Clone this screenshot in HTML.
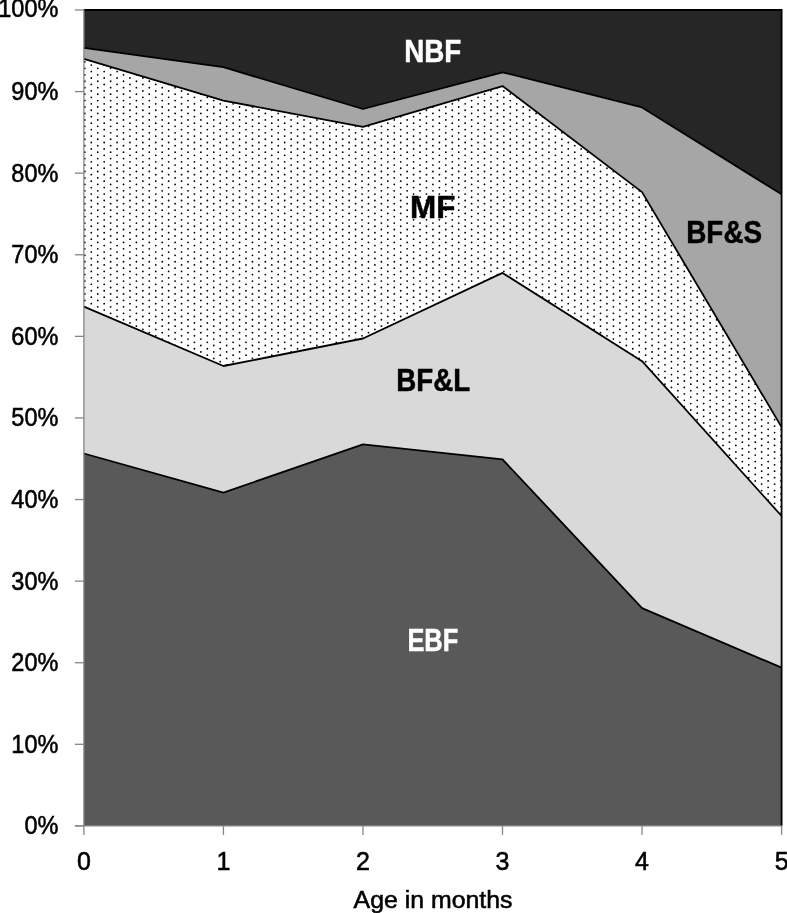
<!DOCTYPE html>
<html><head><meta charset="utf-8"><style>
html,body{margin:0;padding:0;background:#fff;}
svg{display:block;will-change:transform;}
.ax{font-family:"Liberation Sans",sans-serif;font-size:25px;fill:#000;stroke:#000;stroke-width:0.55px;}
.lb{font-family:"Liberation Sans",sans-serif;font-size:32px;font-weight:bold;}
</style></head><body>
<svg width="787" height="913" viewBox="0 0 787 913">
<polygon points="83.90,453.50 223.44,492.60 362.98,444.40 502.52,459.40 642.06,608.06 781.60,667.70 781.60,825.90 642.06,825.90 502.52,825.90 362.98,825.90 223.44,825.90 83.90,825.90" fill="#595959"/>
<polygon points="83.90,306.60 223.44,366.00 362.98,338.50 502.52,272.90 642.06,361.20 781.60,516.00 781.60,667.70 642.06,608.06 502.52,459.40 362.98,444.40 223.44,492.60 83.90,453.50" fill="#d9d9d9"/>
<clipPath id="mfclip"><polygon points="83.90,58.90 223.44,100.60 362.98,126.80 502.52,86.06 642.06,192.10 781.60,427.10 781.60,516.00 642.06,361.20 502.52,272.90 362.98,338.50 223.44,366.00 83.90,306.60"/></clipPath>
<polygon points="83.90,58.90 223.44,100.60 362.98,126.80 502.52,86.06 642.06,192.10 781.60,427.10 781.60,516.00 642.06,361.20 502.52,272.90 362.98,338.50 223.44,366.00 83.90,306.60" fill="#fff"/>
<path clip-path="url(#mfclip)" d="M84.85 61.90h0M84.85 68.35h0M84.85 74.79h0M84.85 81.24h0M84.85 87.69h0M84.85 94.13h0M84.85 100.58h0M84.85 107.02h0M84.85 113.47h0M84.85 119.91h0M84.85 126.36h0M84.85 132.81h0M84.85 139.25h0M84.85 145.70h0M84.85 152.14h0M84.85 158.59h0M84.85 165.04h0M84.85 171.48h0M84.85 177.93h0M84.85 184.38h0M84.85 190.82h0M84.85 197.27h0M84.85 203.71h0M84.85 210.16h0M84.85 216.60h0M84.85 223.05h0M84.85 229.50h0M84.85 235.94h0M84.85 242.39h0M84.85 248.83h0M84.85 255.28h0M84.85 261.73h0M84.85 268.17h0M84.85 274.62h0M84.85 281.06h0M84.85 287.51h0M84.85 293.96h0M84.85 300.40h0M84.85 306.85h0M91.30 65.12h0M91.30 71.57h0M91.30 78.02h0M91.30 84.46h0M91.30 90.91h0M91.30 97.35h0M91.30 103.80h0M91.30 110.25h0M91.30 116.69h0M91.30 123.14h0M91.30 129.58h0M91.30 136.03h0M91.30 142.48h0M91.30 148.92h0M91.30 155.37h0M91.30 161.81h0M91.30 168.26h0M91.30 174.71h0M91.30 181.15h0M91.30 187.60h0M91.30 194.04h0M91.30 200.49h0M91.30 206.94h0M91.30 213.38h0M91.30 219.83h0M91.30 226.27h0M91.30 232.72h0M91.30 239.17h0M91.30 245.61h0M91.30 252.06h0M91.30 258.50h0M91.30 264.95h0M91.30 271.40h0M91.30 277.84h0M91.30 284.29h0M91.30 290.73h0M91.30 297.18h0M91.30 303.63h0M91.30 310.07h0M97.74 61.90h0M97.74 68.35h0M97.74 74.79h0M97.74 81.24h0M97.74 87.69h0M97.74 94.13h0M97.74 100.58h0M97.74 107.02h0M97.74 113.47h0M97.74 119.91h0M97.74 126.36h0M97.74 132.81h0M97.74 139.25h0M97.74 145.70h0M97.74 152.14h0M97.74 158.59h0M97.74 165.04h0M97.74 171.48h0M97.74 177.93h0M97.74 184.38h0M97.74 190.82h0M97.74 197.27h0M97.74 203.71h0M97.74 210.16h0M97.74 216.60h0M97.74 223.05h0M97.74 229.50h0M97.74 235.94h0M97.74 242.39h0M97.74 248.83h0M97.74 255.28h0M97.74 261.73h0M97.74 268.17h0M97.74 274.62h0M97.74 281.06h0M97.74 287.51h0M97.74 293.96h0M97.74 300.40h0M97.74 306.85h0M97.74 313.29h0M104.19 65.12h0M104.19 71.57h0M104.19 78.02h0M104.19 84.46h0M104.19 90.91h0M104.19 97.35h0M104.19 103.80h0M104.19 110.25h0M104.19 116.69h0M104.19 123.14h0M104.19 129.58h0M104.19 136.03h0M104.19 142.48h0M104.19 148.92h0M104.19 155.37h0M104.19 161.81h0M104.19 168.26h0M104.19 174.71h0M104.19 181.15h0M104.19 187.60h0M104.19 194.04h0M104.19 200.49h0M104.19 206.94h0M104.19 213.38h0M104.19 219.83h0M104.19 226.27h0M104.19 232.72h0M104.19 239.17h0M104.19 245.61h0M104.19 252.06h0M104.19 258.50h0M104.19 264.95h0M104.19 271.40h0M104.19 277.84h0M104.19 284.29h0M104.19 290.73h0M104.19 297.18h0M104.19 303.63h0M104.19 310.07h0M104.19 316.52h0M110.64 68.35h0M110.64 74.79h0M110.64 81.24h0M110.64 87.69h0M110.64 94.13h0M110.64 100.58h0M110.64 107.02h0M110.64 113.47h0M110.64 119.91h0M110.64 126.36h0M110.64 132.81h0M110.64 139.25h0M110.64 145.70h0M110.64 152.14h0M110.64 158.59h0M110.64 165.04h0M110.64 171.48h0M110.64 177.93h0M110.64 184.38h0M110.64 190.82h0M110.64 197.27h0M110.64 203.71h0M110.64 210.16h0M110.64 216.60h0M110.64 223.05h0M110.64 229.50h0M110.64 235.94h0M110.64 242.39h0M110.64 248.83h0M110.64 255.28h0M110.64 261.73h0M110.64 268.17h0M110.64 274.62h0M110.64 281.06h0M110.64 287.51h0M110.64 293.96h0M110.64 300.40h0M110.64 306.85h0M110.64 313.29h0M110.64 319.74h0M117.08 71.57h0M117.08 78.02h0M117.08 84.46h0M117.08 90.91h0M117.08 97.35h0M117.08 103.80h0M117.08 110.25h0M117.08 116.69h0M117.08 123.14h0M117.08 129.58h0M117.08 136.03h0M117.08 142.48h0M117.08 148.92h0M117.08 155.37h0M117.08 161.81h0M117.08 168.26h0M117.08 174.71h0M117.08 181.15h0M117.08 187.60h0M117.08 194.04h0M117.08 200.49h0M117.08 206.94h0M117.08 213.38h0M117.08 219.83h0M117.08 226.27h0M117.08 232.72h0M117.08 239.17h0M117.08 245.61h0M117.08 252.06h0M117.08 258.50h0M117.08 264.95h0M117.08 271.40h0M117.08 277.84h0M117.08 284.29h0M117.08 290.73h0M117.08 297.18h0M117.08 303.63h0M117.08 310.07h0M117.08 316.52h0M123.53 74.79h0M123.53 81.24h0M123.53 87.69h0M123.53 94.13h0M123.53 100.58h0M123.53 107.02h0M123.53 113.47h0M123.53 119.91h0M123.53 126.36h0M123.53 132.81h0M123.53 139.25h0M123.53 145.70h0M123.53 152.14h0M123.53 158.59h0M123.53 165.04h0M123.53 171.48h0M123.53 177.93h0M123.53 184.38h0M123.53 190.82h0M123.53 197.27h0M123.53 203.71h0M123.53 210.16h0M123.53 216.60h0M123.53 223.05h0M123.53 229.50h0M123.53 235.94h0M123.53 242.39h0M123.53 248.83h0M123.53 255.28h0M123.53 261.73h0M123.53 268.17h0M123.53 274.62h0M123.53 281.06h0M123.53 287.51h0M123.53 293.96h0M123.53 300.40h0M123.53 306.85h0M123.53 313.29h0M123.53 319.74h0M129.97 71.57h0M129.97 78.02h0M129.97 84.46h0M129.97 90.91h0M129.97 97.35h0M129.97 103.80h0M129.97 110.25h0M129.97 116.69h0M129.97 123.14h0M129.97 129.58h0M129.97 136.03h0M129.97 142.48h0M129.97 148.92h0M129.97 155.37h0M129.97 161.81h0M129.97 168.26h0M129.97 174.71h0M129.97 181.15h0M129.97 187.60h0M129.97 194.04h0M129.97 200.49h0M129.97 206.94h0M129.97 213.38h0M129.97 219.83h0M129.97 226.27h0M129.97 232.72h0M129.97 239.17h0M129.97 245.61h0M129.97 252.06h0M129.97 258.50h0M129.97 264.95h0M129.97 271.40h0M129.97 277.84h0M129.97 284.29h0M129.97 290.73h0M129.97 297.18h0M129.97 303.63h0M129.97 310.07h0M129.97 316.52h0M129.97 322.96h0M136.42 74.79h0M136.42 81.24h0M136.42 87.69h0M136.42 94.13h0M136.42 100.58h0M136.42 107.02h0M136.42 113.47h0M136.42 119.91h0M136.42 126.36h0M136.42 132.81h0M136.42 139.25h0M136.42 145.70h0M136.42 152.14h0M136.42 158.59h0M136.42 165.04h0M136.42 171.48h0M136.42 177.93h0M136.42 184.38h0M136.42 190.82h0M136.42 197.27h0M136.42 203.71h0M136.42 210.16h0M136.42 216.60h0M136.42 223.05h0M136.42 229.50h0M136.42 235.94h0M136.42 242.39h0M136.42 248.83h0M136.42 255.28h0M136.42 261.73h0M136.42 268.17h0M136.42 274.62h0M136.42 281.06h0M136.42 287.51h0M136.42 293.96h0M136.42 300.40h0M136.42 306.85h0M136.42 313.29h0M136.42 319.74h0M136.42 326.19h0M142.87 78.02h0M142.87 84.46h0M142.87 90.91h0M142.87 97.35h0M142.87 103.80h0M142.87 110.25h0M142.87 116.69h0M142.87 123.14h0M142.87 129.58h0M142.87 136.03h0M142.87 142.48h0M142.87 148.92h0M142.87 155.37h0M142.87 161.81h0M142.87 168.26h0M142.87 174.71h0M142.87 181.15h0M142.87 187.60h0M142.87 194.04h0M142.87 200.49h0M142.87 206.94h0M142.87 213.38h0M142.87 219.83h0M142.87 226.27h0M142.87 232.72h0M142.87 239.17h0M142.87 245.61h0M142.87 252.06h0M142.87 258.50h0M142.87 264.95h0M142.87 271.40h0M142.87 277.84h0M142.87 284.29h0M142.87 290.73h0M142.87 297.18h0M142.87 303.63h0M142.87 310.07h0M142.87 316.52h0M142.87 322.96h0M142.87 329.41h0M149.31 81.24h0M149.31 87.69h0M149.31 94.13h0M149.31 100.58h0M149.31 107.02h0M149.31 113.47h0M149.31 119.91h0M149.31 126.36h0M149.31 132.81h0M149.31 139.25h0M149.31 145.70h0M149.31 152.14h0M149.31 158.59h0M149.31 165.04h0M149.31 171.48h0M149.31 177.93h0M149.31 184.38h0M149.31 190.82h0M149.31 197.27h0M149.31 203.71h0M149.31 210.16h0M149.31 216.60h0M149.31 223.05h0M149.31 229.50h0M149.31 235.94h0M149.31 242.39h0M149.31 248.83h0M149.31 255.28h0M149.31 261.73h0M149.31 268.17h0M149.31 274.62h0M149.31 281.06h0M149.31 287.51h0M149.31 293.96h0M149.31 300.40h0M149.31 306.85h0M149.31 313.29h0M149.31 319.74h0M149.31 326.19h0M149.31 332.63h0M155.76 84.46h0M155.76 90.91h0M155.76 97.35h0M155.76 103.80h0M155.76 110.25h0M155.76 116.69h0M155.76 123.14h0M155.76 129.58h0M155.76 136.03h0M155.76 142.48h0M155.76 148.92h0M155.76 155.37h0M155.76 161.81h0M155.76 168.26h0M155.76 174.71h0M155.76 181.15h0M155.76 187.60h0M155.76 194.04h0M155.76 200.49h0M155.76 206.94h0M155.76 213.38h0M155.76 219.83h0M155.76 226.27h0M155.76 232.72h0M155.76 239.17h0M155.76 245.61h0M155.76 252.06h0M155.76 258.50h0M155.76 264.95h0M155.76 271.40h0M155.76 277.84h0M155.76 284.29h0M155.76 290.73h0M155.76 297.18h0M155.76 303.63h0M155.76 310.07h0M155.76 316.52h0M155.76 322.96h0M155.76 329.41h0M155.76 335.86h0M162.20 81.24h0M162.20 87.69h0M162.20 94.13h0M162.20 100.58h0M162.20 107.02h0M162.20 113.47h0M162.20 119.91h0M162.20 126.36h0M162.20 132.81h0M162.20 139.25h0M162.20 145.70h0M162.20 152.14h0M162.20 158.59h0M162.20 165.04h0M162.20 171.48h0M162.20 177.93h0M162.20 184.38h0M162.20 190.82h0M162.20 197.27h0M162.20 203.71h0M162.20 210.16h0M162.20 216.60h0M162.20 223.05h0M162.20 229.50h0M162.20 235.94h0M162.20 242.39h0M162.20 248.83h0M162.20 255.28h0M162.20 261.73h0M162.20 268.17h0M162.20 274.62h0M162.20 281.06h0M162.20 287.51h0M162.20 293.96h0M162.20 300.40h0M162.20 306.85h0M162.20 313.29h0M162.20 319.74h0M162.20 326.19h0M162.20 332.63h0M162.20 339.08h0M168.65 84.46h0M168.65 90.91h0M168.65 97.35h0M168.65 103.80h0M168.65 110.25h0M168.65 116.69h0M168.65 123.14h0M168.65 129.58h0M168.65 136.03h0M168.65 142.48h0M168.65 148.92h0M168.65 155.37h0M168.65 161.81h0M168.65 168.26h0M168.65 174.71h0M168.65 181.15h0M168.65 187.60h0M168.65 194.04h0M168.65 200.49h0M168.65 206.94h0M168.65 213.38h0M168.65 219.83h0M168.65 226.27h0M168.65 232.72h0M168.65 239.17h0M168.65 245.61h0M168.65 252.06h0M168.65 258.50h0M168.65 264.95h0M168.65 271.40h0M168.65 277.84h0M168.65 284.29h0M168.65 290.73h0M168.65 297.18h0M168.65 303.63h0M168.65 310.07h0M168.65 316.52h0M168.65 322.96h0M168.65 329.41h0M168.65 335.86h0M168.65 342.30h0M175.10 87.69h0M175.10 94.13h0M175.10 100.58h0M175.10 107.02h0M175.10 113.47h0M175.10 119.91h0M175.10 126.36h0M175.10 132.81h0M175.10 139.25h0M175.10 145.70h0M175.10 152.14h0M175.10 158.59h0M175.10 165.04h0M175.10 171.48h0M175.10 177.93h0M175.10 184.38h0M175.10 190.82h0M175.10 197.27h0M175.10 203.71h0M175.10 210.16h0M175.10 216.60h0M175.10 223.05h0M175.10 229.50h0M175.10 235.94h0M175.10 242.39h0M175.10 248.83h0M175.10 255.28h0M175.10 261.73h0M175.10 268.17h0M175.10 274.62h0M175.10 281.06h0M175.10 287.51h0M175.10 293.96h0M175.10 300.40h0M175.10 306.85h0M175.10 313.29h0M175.10 319.74h0M175.10 326.19h0M175.10 332.63h0M175.10 339.08h0M175.10 345.52h0M181.54 90.91h0M181.54 97.35h0M181.54 103.80h0M181.54 110.25h0M181.54 116.69h0M181.54 123.14h0M181.54 129.58h0M181.54 136.03h0M181.54 142.48h0M181.54 148.92h0M181.54 155.37h0M181.54 161.81h0M181.54 168.26h0M181.54 174.71h0M181.54 181.15h0M181.54 187.60h0M181.54 194.04h0M181.54 200.49h0M181.54 206.94h0M181.54 213.38h0M181.54 219.83h0M181.54 226.27h0M181.54 232.72h0M181.54 239.17h0M181.54 245.61h0M181.54 252.06h0M181.54 258.50h0M181.54 264.95h0M181.54 271.40h0M181.54 277.84h0M181.54 284.29h0M181.54 290.73h0M181.54 297.18h0M181.54 303.63h0M181.54 310.07h0M181.54 316.52h0M181.54 322.96h0M181.54 329.41h0M181.54 335.86h0M181.54 342.30h0M181.54 348.75h0M187.99 94.13h0M187.99 100.58h0M187.99 107.02h0M187.99 113.47h0M187.99 119.91h0M187.99 126.36h0M187.99 132.81h0M187.99 139.25h0M187.99 145.70h0M187.99 152.14h0M187.99 158.59h0M187.99 165.04h0M187.99 171.48h0M187.99 177.93h0M187.99 184.38h0M187.99 190.82h0M187.99 197.27h0M187.99 203.71h0M187.99 210.16h0M187.99 216.60h0M187.99 223.05h0M187.99 229.50h0M187.99 235.94h0M187.99 242.39h0M187.99 248.83h0M187.99 255.28h0M187.99 261.73h0M187.99 268.17h0M187.99 274.62h0M187.99 281.06h0M187.99 287.51h0M187.99 293.96h0M187.99 300.40h0M187.99 306.85h0M187.99 313.29h0M187.99 319.74h0M187.99 326.19h0M187.99 332.63h0M187.99 339.08h0M187.99 345.52h0M187.99 351.97h0M194.43 90.91h0M194.43 97.35h0M194.43 103.80h0M194.43 110.25h0M194.43 116.69h0M194.43 123.14h0M194.43 129.58h0M194.43 136.03h0M194.43 142.48h0M194.43 148.92h0M194.43 155.37h0M194.43 161.81h0M194.43 168.26h0M194.43 174.71h0M194.43 181.15h0M194.43 187.60h0M194.43 194.04h0M194.43 200.49h0M194.43 206.94h0M194.43 213.38h0M194.43 219.83h0M194.43 226.27h0M194.43 232.72h0M194.43 239.17h0M194.43 245.61h0M194.43 252.06h0M194.43 258.50h0M194.43 264.95h0M194.43 271.40h0M194.43 277.84h0M194.43 284.29h0M194.43 290.73h0M194.43 297.18h0M194.43 303.63h0M194.43 310.07h0M194.43 316.52h0M194.43 322.96h0M194.43 329.41h0M194.43 335.86h0M194.43 342.30h0M194.43 348.75h0M194.43 355.19h0M200.88 94.13h0M200.88 100.58h0M200.88 107.02h0M200.88 113.47h0M200.88 119.91h0M200.88 126.36h0M200.88 132.81h0M200.88 139.25h0M200.88 145.70h0M200.88 152.14h0M200.88 158.59h0M200.88 165.04h0M200.88 171.48h0M200.88 177.93h0M200.88 184.38h0M200.88 190.82h0M200.88 197.27h0M200.88 203.71h0M200.88 210.16h0M200.88 216.60h0M200.88 223.05h0M200.88 229.50h0M200.88 235.94h0M200.88 242.39h0M200.88 248.83h0M200.88 255.28h0M200.88 261.73h0M200.88 268.17h0M200.88 274.62h0M200.88 281.06h0M200.88 287.51h0M200.88 293.96h0M200.88 300.40h0M200.88 306.85h0M200.88 313.29h0M200.88 319.74h0M200.88 326.19h0M200.88 332.63h0M200.88 339.08h0M200.88 345.52h0M200.88 351.97h0M207.33 97.35h0M207.33 103.80h0M207.33 110.25h0M207.33 116.69h0M207.33 123.14h0M207.33 129.58h0M207.33 136.03h0M207.33 142.48h0M207.33 148.92h0M207.33 155.37h0M207.33 161.81h0M207.33 168.26h0M207.33 174.71h0M207.33 181.15h0M207.33 187.60h0M207.33 194.04h0M207.33 200.49h0M207.33 206.94h0M207.33 213.38h0M207.33 219.83h0M207.33 226.27h0M207.33 232.72h0M207.33 239.17h0M207.33 245.61h0M207.33 252.06h0M207.33 258.50h0M207.33 264.95h0M207.33 271.40h0M207.33 277.84h0M207.33 284.29h0M207.33 290.73h0M207.33 297.18h0M207.33 303.63h0M207.33 310.07h0M207.33 316.52h0M207.33 322.96h0M207.33 329.41h0M207.33 335.86h0M207.33 342.30h0M207.33 348.75h0M207.33 355.19h0M213.77 100.58h0M213.77 107.02h0M213.77 113.47h0M213.77 119.91h0M213.77 126.36h0M213.77 132.81h0M213.77 139.25h0M213.77 145.70h0M213.77 152.14h0M213.77 158.59h0M213.77 165.04h0M213.77 171.48h0M213.77 177.93h0M213.77 184.38h0M213.77 190.82h0M213.77 197.27h0M213.77 203.71h0M213.77 210.16h0M213.77 216.60h0M213.77 223.05h0M213.77 229.50h0M213.77 235.94h0M213.77 242.39h0M213.77 248.83h0M213.77 255.28h0M213.77 261.73h0M213.77 268.17h0M213.77 274.62h0M213.77 281.06h0M213.77 287.51h0M213.77 293.96h0M213.77 300.40h0M213.77 306.85h0M213.77 313.29h0M213.77 319.74h0M213.77 326.19h0M213.77 332.63h0M213.77 339.08h0M213.77 345.52h0M213.77 351.97h0M213.77 358.42h0M220.22 103.80h0M220.22 110.25h0M220.22 116.69h0M220.22 123.14h0M220.22 129.58h0M220.22 136.03h0M220.22 142.48h0M220.22 148.92h0M220.22 155.37h0M220.22 161.81h0M220.22 168.26h0M220.22 174.71h0M220.22 181.15h0M220.22 187.60h0M220.22 194.04h0M220.22 200.49h0M220.22 206.94h0M220.22 213.38h0M220.22 219.83h0M220.22 226.27h0M220.22 232.72h0M220.22 239.17h0M220.22 245.61h0M220.22 252.06h0M220.22 258.50h0M220.22 264.95h0M220.22 271.40h0M220.22 277.84h0M220.22 284.29h0M220.22 290.73h0M220.22 297.18h0M220.22 303.63h0M220.22 310.07h0M220.22 316.52h0M220.22 322.96h0M220.22 329.41h0M220.22 335.86h0M220.22 342.30h0M220.22 348.75h0M220.22 355.19h0M220.22 361.64h0M226.66 100.58h0M226.66 107.02h0M226.66 113.47h0M226.66 119.91h0M226.66 126.36h0M226.66 132.81h0M226.66 139.25h0M226.66 145.70h0M226.66 152.14h0M226.66 158.59h0M226.66 165.04h0M226.66 171.48h0M226.66 177.93h0M226.66 184.38h0M226.66 190.82h0M226.66 197.27h0M226.66 203.71h0M226.66 210.16h0M226.66 216.60h0M226.66 223.05h0M226.66 229.50h0M226.66 235.94h0M226.66 242.39h0M226.66 248.83h0M226.66 255.28h0M226.66 261.73h0M226.66 268.17h0M226.66 274.62h0M226.66 281.06h0M226.66 287.51h0M226.66 293.96h0M226.66 300.40h0M226.66 306.85h0M226.66 313.29h0M226.66 319.74h0M226.66 326.19h0M226.66 332.63h0M226.66 339.08h0M226.66 345.52h0M226.66 351.97h0M226.66 358.42h0M226.66 364.86h0M233.11 103.80h0M233.11 110.25h0M233.11 116.69h0M233.11 123.14h0M233.11 129.58h0M233.11 136.03h0M233.11 142.48h0M233.11 148.92h0M233.11 155.37h0M233.11 161.81h0M233.11 168.26h0M233.11 174.71h0M233.11 181.15h0M233.11 187.60h0M233.11 194.04h0M233.11 200.49h0M233.11 206.94h0M233.11 213.38h0M233.11 219.83h0M233.11 226.27h0M233.11 232.72h0M233.11 239.17h0M233.11 245.61h0M233.11 252.06h0M233.11 258.50h0M233.11 264.95h0M233.11 271.40h0M233.11 277.84h0M233.11 284.29h0M233.11 290.73h0M233.11 297.18h0M233.11 303.63h0M233.11 310.07h0M233.11 316.52h0M233.11 322.96h0M233.11 329.41h0M233.11 335.86h0M233.11 342.30h0M233.11 348.75h0M233.11 355.19h0M233.11 361.64h0M239.56 107.02h0M239.56 113.47h0M239.56 119.91h0M239.56 126.36h0M239.56 132.81h0M239.56 139.25h0M239.56 145.70h0M239.56 152.14h0M239.56 158.59h0M239.56 165.04h0M239.56 171.48h0M239.56 177.93h0M239.56 184.38h0M239.56 190.82h0M239.56 197.27h0M239.56 203.71h0M239.56 210.16h0M239.56 216.60h0M239.56 223.05h0M239.56 229.50h0M239.56 235.94h0M239.56 242.39h0M239.56 248.83h0M239.56 255.28h0M239.56 261.73h0M239.56 268.17h0M239.56 274.62h0M239.56 281.06h0M239.56 287.51h0M239.56 293.96h0M239.56 300.40h0M239.56 306.85h0M239.56 313.29h0M239.56 319.74h0M239.56 326.19h0M239.56 332.63h0M239.56 339.08h0M239.56 345.52h0M239.56 351.97h0M239.56 358.42h0M246.00 103.80h0M246.00 110.25h0M246.00 116.69h0M246.00 123.14h0M246.00 129.58h0M246.00 136.03h0M246.00 142.48h0M246.00 148.92h0M246.00 155.37h0M246.00 161.81h0M246.00 168.26h0M246.00 174.71h0M246.00 181.15h0M246.00 187.60h0M246.00 194.04h0M246.00 200.49h0M246.00 206.94h0M246.00 213.38h0M246.00 219.83h0M246.00 226.27h0M246.00 232.72h0M246.00 239.17h0M246.00 245.61h0M246.00 252.06h0M246.00 258.50h0M246.00 264.95h0M246.00 271.40h0M246.00 277.84h0M246.00 284.29h0M246.00 290.73h0M246.00 297.18h0M246.00 303.63h0M246.00 310.07h0M246.00 316.52h0M246.00 322.96h0M246.00 329.41h0M246.00 335.86h0M246.00 342.30h0M246.00 348.75h0M246.00 355.19h0M246.00 361.64h0M252.45 107.02h0M252.45 113.47h0M252.45 119.91h0M252.45 126.36h0M252.45 132.81h0M252.45 139.25h0M252.45 145.70h0M252.45 152.14h0M252.45 158.59h0M252.45 165.04h0M252.45 171.48h0M252.45 177.93h0M252.45 184.38h0M252.45 190.82h0M252.45 197.27h0M252.45 203.71h0M252.45 210.16h0M252.45 216.60h0M252.45 223.05h0M252.45 229.50h0M252.45 235.94h0M252.45 242.39h0M252.45 248.83h0M252.45 255.28h0M252.45 261.73h0M252.45 268.17h0M252.45 274.62h0M252.45 281.06h0M252.45 287.51h0M252.45 293.96h0M252.45 300.40h0M252.45 306.85h0M252.45 313.29h0M252.45 319.74h0M252.45 326.19h0M252.45 332.63h0M252.45 339.08h0M252.45 345.52h0M252.45 351.97h0M252.45 358.42h0M258.89 110.25h0M258.89 116.69h0M258.89 123.14h0M258.89 129.58h0M258.89 136.03h0M258.89 142.48h0M258.89 148.92h0M258.89 155.37h0M258.89 161.81h0M258.89 168.26h0M258.89 174.71h0M258.89 181.15h0M258.89 187.60h0M258.89 194.04h0M258.89 200.49h0M258.89 206.94h0M258.89 213.38h0M258.89 219.83h0M258.89 226.27h0M258.89 232.72h0M258.89 239.17h0M258.89 245.61h0M258.89 252.06h0M258.89 258.50h0M258.89 264.95h0M258.89 271.40h0M258.89 277.84h0M258.89 284.29h0M258.89 290.73h0M258.89 297.18h0M258.89 303.63h0M258.89 310.07h0M258.89 316.52h0M258.89 322.96h0M258.89 329.41h0M258.89 335.86h0M258.89 342.30h0M258.89 348.75h0M258.89 355.19h0M265.34 107.02h0M265.34 113.47h0M265.34 119.91h0M265.34 126.36h0M265.34 132.81h0M265.34 139.25h0M265.34 145.70h0M265.34 152.14h0M265.34 158.59h0M265.34 165.04h0M265.34 171.48h0M265.34 177.93h0M265.34 184.38h0M265.34 190.82h0M265.34 197.27h0M265.34 203.71h0M265.34 210.16h0M265.34 216.60h0M265.34 223.05h0M265.34 229.50h0M265.34 235.94h0M265.34 242.39h0M265.34 248.83h0M265.34 255.28h0M265.34 261.73h0M265.34 268.17h0M265.34 274.62h0M265.34 281.06h0M265.34 287.51h0M265.34 293.96h0M265.34 300.40h0M265.34 306.85h0M265.34 313.29h0M265.34 319.74h0M265.34 326.19h0M265.34 332.63h0M265.34 339.08h0M265.34 345.52h0M265.34 351.97h0M265.34 358.42h0M271.79 110.25h0M271.79 116.69h0M271.79 123.14h0M271.79 129.58h0M271.79 136.03h0M271.79 142.48h0M271.79 148.92h0M271.79 155.37h0M271.79 161.81h0M271.79 168.26h0M271.79 174.71h0M271.79 181.15h0M271.79 187.60h0M271.79 194.04h0M271.79 200.49h0M271.79 206.94h0M271.79 213.38h0M271.79 219.83h0M271.79 226.27h0M271.79 232.72h0M271.79 239.17h0M271.79 245.61h0M271.79 252.06h0M271.79 258.50h0M271.79 264.95h0M271.79 271.40h0M271.79 277.84h0M271.79 284.29h0M271.79 290.73h0M271.79 297.18h0M271.79 303.63h0M271.79 310.07h0M271.79 316.52h0M271.79 322.96h0M271.79 329.41h0M271.79 335.86h0M271.79 342.30h0M271.79 348.75h0M271.79 355.19h0M278.23 113.47h0M278.23 119.91h0M278.23 126.36h0M278.23 132.81h0M278.23 139.25h0M278.23 145.70h0M278.23 152.14h0M278.23 158.59h0M278.23 165.04h0M278.23 171.48h0M278.23 177.93h0M278.23 184.38h0M278.23 190.82h0M278.23 197.27h0M278.23 203.71h0M278.23 210.16h0M278.23 216.60h0M278.23 223.05h0M278.23 229.50h0M278.23 235.94h0M278.23 242.39h0M278.23 248.83h0M278.23 255.28h0M278.23 261.73h0M278.23 268.17h0M278.23 274.62h0M278.23 281.06h0M278.23 287.51h0M278.23 293.96h0M278.23 300.40h0M278.23 306.85h0M278.23 313.29h0M278.23 319.74h0M278.23 326.19h0M278.23 332.63h0M278.23 339.08h0M278.23 345.52h0M278.23 351.97h0M284.68 110.25h0M284.68 116.69h0M284.68 123.14h0M284.68 129.58h0M284.68 136.03h0M284.68 142.48h0M284.68 148.92h0M284.68 155.37h0M284.68 161.81h0M284.68 168.26h0M284.68 174.71h0M284.68 181.15h0M284.68 187.60h0M284.68 194.04h0M284.68 200.49h0M284.68 206.94h0M284.68 213.38h0M284.68 219.83h0M284.68 226.27h0M284.68 232.72h0M284.68 239.17h0M284.68 245.61h0M284.68 252.06h0M284.68 258.50h0M284.68 264.95h0M284.68 271.40h0M284.68 277.84h0M284.68 284.29h0M284.68 290.73h0M284.68 297.18h0M284.68 303.63h0M284.68 310.07h0M284.68 316.52h0M284.68 322.96h0M284.68 329.41h0M284.68 335.86h0M284.68 342.30h0M284.68 348.75h0M284.68 355.19h0M291.12 113.47h0M291.12 119.91h0M291.12 126.36h0M291.12 132.81h0M291.12 139.25h0M291.12 145.70h0M291.12 152.14h0M291.12 158.59h0M291.12 165.04h0M291.12 171.48h0M291.12 177.93h0M291.12 184.38h0M291.12 190.82h0M291.12 197.27h0M291.12 203.71h0M291.12 210.16h0M291.12 216.60h0M291.12 223.05h0M291.12 229.50h0M291.12 235.94h0M291.12 242.39h0M291.12 248.83h0M291.12 255.28h0M291.12 261.73h0M291.12 268.17h0M291.12 274.62h0M291.12 281.06h0M291.12 287.51h0M291.12 293.96h0M291.12 300.40h0M291.12 306.85h0M291.12 313.29h0M291.12 319.74h0M291.12 326.19h0M291.12 332.63h0M291.12 339.08h0M291.12 345.52h0M291.12 351.97h0M297.57 116.69h0M297.57 123.14h0M297.57 129.58h0M297.57 136.03h0M297.57 142.48h0M297.57 148.92h0M297.57 155.37h0M297.57 161.81h0M297.57 168.26h0M297.57 174.71h0M297.57 181.15h0M297.57 187.60h0M297.57 194.04h0M297.57 200.49h0M297.57 206.94h0M297.57 213.38h0M297.57 219.83h0M297.57 226.27h0M297.57 232.72h0M297.57 239.17h0M297.57 245.61h0M297.57 252.06h0M297.57 258.50h0M297.57 264.95h0M297.57 271.40h0M297.57 277.84h0M297.57 284.29h0M297.57 290.73h0M297.57 297.18h0M297.57 303.63h0M297.57 310.07h0M297.57 316.52h0M297.57 322.96h0M297.57 329.41h0M297.57 335.86h0M297.57 342.30h0M297.57 348.75h0M304.02 119.91h0M304.02 126.36h0M304.02 132.81h0M304.02 139.25h0M304.02 145.70h0M304.02 152.14h0M304.02 158.59h0M304.02 165.04h0M304.02 171.48h0M304.02 177.93h0M304.02 184.38h0M304.02 190.82h0M304.02 197.27h0M304.02 203.71h0M304.02 210.16h0M304.02 216.60h0M304.02 223.05h0M304.02 229.50h0M304.02 235.94h0M304.02 242.39h0M304.02 248.83h0M304.02 255.28h0M304.02 261.73h0M304.02 268.17h0M304.02 274.62h0M304.02 281.06h0M304.02 287.51h0M304.02 293.96h0M304.02 300.40h0M304.02 306.85h0M304.02 313.29h0M304.02 319.74h0M304.02 326.19h0M304.02 332.63h0M304.02 339.08h0M304.02 345.52h0M304.02 351.97h0M310.46 116.69h0M310.46 123.14h0M310.46 129.58h0M310.46 136.03h0M310.46 142.48h0M310.46 148.92h0M310.46 155.37h0M310.46 161.81h0M310.46 168.26h0M310.46 174.71h0M310.46 181.15h0M310.46 187.60h0M310.46 194.04h0M310.46 200.49h0M310.46 206.94h0M310.46 213.38h0M310.46 219.83h0M310.46 226.27h0M310.46 232.72h0M310.46 239.17h0M310.46 245.61h0M310.46 252.06h0M310.46 258.50h0M310.46 264.95h0M310.46 271.40h0M310.46 277.84h0M310.46 284.29h0M310.46 290.73h0M310.46 297.18h0M310.46 303.63h0M310.46 310.07h0M310.46 316.52h0M310.46 322.96h0M310.46 329.41h0M310.46 335.86h0M310.46 342.30h0M310.46 348.75h0M316.91 119.91h0M316.91 126.36h0M316.91 132.81h0M316.91 139.25h0M316.91 145.70h0M316.91 152.14h0M316.91 158.59h0M316.91 165.04h0M316.91 171.48h0M316.91 177.93h0M316.91 184.38h0M316.91 190.82h0M316.91 197.27h0M316.91 203.71h0M316.91 210.16h0M316.91 216.60h0M316.91 223.05h0M316.91 229.50h0M316.91 235.94h0M316.91 242.39h0M316.91 248.83h0M316.91 255.28h0M316.91 261.73h0M316.91 268.17h0M316.91 274.62h0M316.91 281.06h0M316.91 287.51h0M316.91 293.96h0M316.91 300.40h0M316.91 306.85h0M316.91 313.29h0M316.91 319.74h0M316.91 326.19h0M316.91 332.63h0M316.91 339.08h0M316.91 345.52h0M323.35 123.14h0M323.35 129.58h0M323.35 136.03h0M323.35 142.48h0M323.35 148.92h0M323.35 155.37h0M323.35 161.81h0M323.35 168.26h0M323.35 174.71h0M323.35 181.15h0M323.35 187.60h0M323.35 194.04h0M323.35 200.49h0M323.35 206.94h0M323.35 213.38h0M323.35 219.83h0M323.35 226.27h0M323.35 232.72h0M323.35 239.17h0M323.35 245.61h0M323.35 252.06h0M323.35 258.50h0M323.35 264.95h0M323.35 271.40h0M323.35 277.84h0M323.35 284.29h0M323.35 290.73h0M323.35 297.18h0M323.35 303.63h0M323.35 310.07h0M323.35 316.52h0M323.35 322.96h0M323.35 329.41h0M323.35 335.86h0M323.35 342.30h0M329.80 119.91h0M329.80 126.36h0M329.80 132.81h0M329.80 139.25h0M329.80 145.70h0M329.80 152.14h0M329.80 158.59h0M329.80 165.04h0M329.80 171.48h0M329.80 177.93h0M329.80 184.38h0M329.80 190.82h0M329.80 197.27h0M329.80 203.71h0M329.80 210.16h0M329.80 216.60h0M329.80 223.05h0M329.80 229.50h0M329.80 235.94h0M329.80 242.39h0M329.80 248.83h0M329.80 255.28h0M329.80 261.73h0M329.80 268.17h0M329.80 274.62h0M329.80 281.06h0M329.80 287.51h0M329.80 293.96h0M329.80 300.40h0M329.80 306.85h0M329.80 313.29h0M329.80 319.74h0M329.80 326.19h0M329.80 332.63h0M329.80 339.08h0M329.80 345.52h0M336.25 123.14h0M336.25 129.58h0M336.25 136.03h0M336.25 142.48h0M336.25 148.92h0M336.25 155.37h0M336.25 161.81h0M336.25 168.26h0M336.25 174.71h0M336.25 181.15h0M336.25 187.60h0M336.25 194.04h0M336.25 200.49h0M336.25 206.94h0M336.25 213.38h0M336.25 219.83h0M336.25 226.27h0M336.25 232.72h0M336.25 239.17h0M336.25 245.61h0M336.25 252.06h0M336.25 258.50h0M336.25 264.95h0M336.25 271.40h0M336.25 277.84h0M336.25 284.29h0M336.25 290.73h0M336.25 297.18h0M336.25 303.63h0M336.25 310.07h0M336.25 316.52h0M336.25 322.96h0M336.25 329.41h0M336.25 335.86h0M336.25 342.30h0M342.69 126.36h0M342.69 132.81h0M342.69 139.25h0M342.69 145.70h0M342.69 152.14h0M342.69 158.59h0M342.69 165.04h0M342.69 171.48h0M342.69 177.93h0M342.69 184.38h0M342.69 190.82h0M342.69 197.27h0M342.69 203.71h0M342.69 210.16h0M342.69 216.60h0M342.69 223.05h0M342.69 229.50h0M342.69 235.94h0M342.69 242.39h0M342.69 248.83h0M342.69 255.28h0M342.69 261.73h0M342.69 268.17h0M342.69 274.62h0M342.69 281.06h0M342.69 287.51h0M342.69 293.96h0M342.69 300.40h0M342.69 306.85h0M342.69 313.29h0M342.69 319.74h0M342.69 326.19h0M342.69 332.63h0M342.69 339.08h0M349.14 123.14h0M349.14 129.58h0M349.14 136.03h0M349.14 142.48h0M349.14 148.92h0M349.14 155.37h0M349.14 161.81h0M349.14 168.26h0M349.14 174.71h0M349.14 181.15h0M349.14 187.60h0M349.14 194.04h0M349.14 200.49h0M349.14 206.94h0M349.14 213.38h0M349.14 219.83h0M349.14 226.27h0M349.14 232.72h0M349.14 239.17h0M349.14 245.61h0M349.14 252.06h0M349.14 258.50h0M349.14 264.95h0M349.14 271.40h0M349.14 277.84h0M349.14 284.29h0M349.14 290.73h0M349.14 297.18h0M349.14 303.63h0M349.14 310.07h0M349.14 316.52h0M349.14 322.96h0M349.14 329.41h0M349.14 335.86h0M349.14 342.30h0M355.58 126.36h0M355.58 132.81h0M355.58 139.25h0M355.58 145.70h0M355.58 152.14h0M355.58 158.59h0M355.58 165.04h0M355.58 171.48h0M355.58 177.93h0M355.58 184.38h0M355.58 190.82h0M355.58 197.27h0M355.58 203.71h0M355.58 210.16h0M355.58 216.60h0M355.58 223.05h0M355.58 229.50h0M355.58 235.94h0M355.58 242.39h0M355.58 248.83h0M355.58 255.28h0M355.58 261.73h0M355.58 268.17h0M355.58 274.62h0M355.58 281.06h0M355.58 287.51h0M355.58 293.96h0M355.58 300.40h0M355.58 306.85h0M355.58 313.29h0M355.58 319.74h0M355.58 326.19h0M355.58 332.63h0M355.58 339.08h0M362.03 129.58h0M362.03 136.03h0M362.03 142.48h0M362.03 148.92h0M362.03 155.37h0M362.03 161.81h0M362.03 168.26h0M362.03 174.71h0M362.03 181.15h0M362.03 187.60h0M362.03 194.04h0M362.03 200.49h0M362.03 206.94h0M362.03 213.38h0M362.03 219.83h0M362.03 226.27h0M362.03 232.72h0M362.03 239.17h0M362.03 245.61h0M362.03 252.06h0M362.03 258.50h0M362.03 264.95h0M362.03 271.40h0M362.03 277.84h0M362.03 284.29h0M362.03 290.73h0M362.03 297.18h0M362.03 303.63h0M362.03 310.07h0M362.03 316.52h0M362.03 322.96h0M362.03 329.41h0M362.03 335.86h0M368.48 126.36h0M368.48 132.81h0M368.48 139.25h0M368.48 145.70h0M368.48 152.14h0M368.48 158.59h0M368.48 165.04h0M368.48 171.48h0M368.48 177.93h0M368.48 184.38h0M368.48 190.82h0M368.48 197.27h0M368.48 203.71h0M368.48 210.16h0M368.48 216.60h0M368.48 223.05h0M368.48 229.50h0M368.48 235.94h0M368.48 242.39h0M368.48 248.83h0M368.48 255.28h0M368.48 261.73h0M368.48 268.17h0M368.48 274.62h0M368.48 281.06h0M368.48 287.51h0M368.48 293.96h0M368.48 300.40h0M368.48 306.85h0M368.48 313.29h0M368.48 319.74h0M368.48 326.19h0M368.48 332.63h0M374.92 123.14h0M374.92 129.58h0M374.92 136.03h0M374.92 142.48h0M374.92 148.92h0M374.92 155.37h0M374.92 161.81h0M374.92 168.26h0M374.92 174.71h0M374.92 181.15h0M374.92 187.60h0M374.92 194.04h0M374.92 200.49h0M374.92 206.94h0M374.92 213.38h0M374.92 219.83h0M374.92 226.27h0M374.92 232.72h0M374.92 239.17h0M374.92 245.61h0M374.92 252.06h0M374.92 258.50h0M374.92 264.95h0M374.92 271.40h0M374.92 277.84h0M374.92 284.29h0M374.92 290.73h0M374.92 297.18h0M374.92 303.63h0M374.92 310.07h0M374.92 316.52h0M374.92 322.96h0M374.92 329.41h0M381.37 119.91h0M381.37 126.36h0M381.37 132.81h0M381.37 139.25h0M381.37 145.70h0M381.37 152.14h0M381.37 158.59h0M381.37 165.04h0M381.37 171.48h0M381.37 177.93h0M381.37 184.38h0M381.37 190.82h0M381.37 197.27h0M381.37 203.71h0M381.37 210.16h0M381.37 216.60h0M381.37 223.05h0M381.37 229.50h0M381.37 235.94h0M381.37 242.39h0M381.37 248.83h0M381.37 255.28h0M381.37 261.73h0M381.37 268.17h0M381.37 274.62h0M381.37 281.06h0M381.37 287.51h0M381.37 293.96h0M381.37 300.40h0M381.37 306.85h0M381.37 313.29h0M381.37 319.74h0M381.37 326.19h0M387.81 123.14h0M387.81 129.58h0M387.81 136.03h0M387.81 142.48h0M387.81 148.92h0M387.81 155.37h0M387.81 161.81h0M387.81 168.26h0M387.81 174.71h0M387.81 181.15h0M387.81 187.60h0M387.81 194.04h0M387.81 200.49h0M387.81 206.94h0M387.81 213.38h0M387.81 219.83h0M387.81 226.27h0M387.81 232.72h0M387.81 239.17h0M387.81 245.61h0M387.81 252.06h0M387.81 258.50h0M387.81 264.95h0M387.81 271.40h0M387.81 277.84h0M387.81 284.29h0M387.81 290.73h0M387.81 297.18h0M387.81 303.63h0M387.81 310.07h0M387.81 316.52h0M387.81 322.96h0M394.26 119.91h0M394.26 126.36h0M394.26 132.81h0M394.26 139.25h0M394.26 145.70h0M394.26 152.14h0M394.26 158.59h0M394.26 165.04h0M394.26 171.48h0M394.26 177.93h0M394.26 184.38h0M394.26 190.82h0M394.26 197.27h0M394.26 203.71h0M394.26 210.16h0M394.26 216.60h0M394.26 223.05h0M394.26 229.50h0M394.26 235.94h0M394.26 242.39h0M394.26 248.83h0M394.26 255.28h0M394.26 261.73h0M394.26 268.17h0M394.26 274.62h0M394.26 281.06h0M394.26 287.51h0M394.26 293.96h0M394.26 300.40h0M394.26 306.85h0M394.26 313.29h0M394.26 319.74h0M400.71 116.69h0M400.71 123.14h0M400.71 129.58h0M400.71 136.03h0M400.71 142.48h0M400.71 148.92h0M400.71 155.37h0M400.71 161.81h0M400.71 168.26h0M400.71 174.71h0M400.71 181.15h0M400.71 187.60h0M400.71 194.04h0M400.71 200.49h0M400.71 206.94h0M400.71 213.38h0M400.71 219.83h0M400.71 226.27h0M400.71 232.72h0M400.71 239.17h0M400.71 245.61h0M400.71 252.06h0M400.71 258.50h0M400.71 264.95h0M400.71 271.40h0M400.71 277.84h0M400.71 284.29h0M400.71 290.73h0M400.71 297.18h0M400.71 303.63h0M400.71 310.07h0M400.71 316.52h0M407.15 113.47h0M407.15 119.91h0M407.15 126.36h0M407.15 132.81h0M407.15 139.25h0M407.15 145.70h0M407.15 152.14h0M407.15 158.59h0M407.15 165.04h0M407.15 171.48h0M407.15 177.93h0M407.15 184.38h0M407.15 190.82h0M407.15 197.27h0M407.15 203.71h0M407.15 210.16h0M407.15 216.60h0M407.15 223.05h0M407.15 229.50h0M407.15 235.94h0M407.15 242.39h0M407.15 248.83h0M407.15 255.28h0M407.15 261.73h0M407.15 268.17h0M407.15 274.62h0M407.15 281.06h0M407.15 287.51h0M407.15 293.96h0M407.15 300.40h0M407.15 306.85h0M407.15 313.29h0M413.60 110.25h0M413.60 116.69h0M413.60 123.14h0M413.60 129.58h0M413.60 136.03h0M413.60 142.48h0M413.60 148.92h0M413.60 155.37h0M413.60 161.81h0M413.60 168.26h0M413.60 174.71h0M413.60 181.15h0M413.60 187.60h0M413.60 194.04h0M413.60 200.49h0M413.60 206.94h0M413.60 213.38h0M413.60 219.83h0M413.60 226.27h0M413.60 232.72h0M413.60 239.17h0M413.60 245.61h0M413.60 252.06h0M413.60 258.50h0M413.60 264.95h0M413.60 271.40h0M413.60 277.84h0M413.60 284.29h0M413.60 290.73h0M413.60 297.18h0M413.60 303.63h0M413.60 310.07h0M413.60 316.52h0M420.04 113.47h0M420.04 119.91h0M420.04 126.36h0M420.04 132.81h0M420.04 139.25h0M420.04 145.70h0M420.04 152.14h0M420.04 158.59h0M420.04 165.04h0M420.04 171.48h0M420.04 177.93h0M420.04 184.38h0M420.04 190.82h0M420.04 197.27h0M420.04 203.71h0M420.04 210.16h0M420.04 216.60h0M420.04 223.05h0M420.04 229.50h0M420.04 235.94h0M420.04 242.39h0M420.04 248.83h0M420.04 255.28h0M420.04 261.73h0M420.04 268.17h0M420.04 274.62h0M420.04 281.06h0M420.04 287.51h0M420.04 293.96h0M420.04 300.40h0M420.04 306.85h0M420.04 313.29h0M426.49 110.25h0M426.49 116.69h0M426.49 123.14h0M426.49 129.58h0M426.49 136.03h0M426.49 142.48h0M426.49 148.92h0M426.49 155.37h0M426.49 161.81h0M426.49 168.26h0M426.49 174.71h0M426.49 181.15h0M426.49 187.60h0M426.49 194.04h0M426.49 200.49h0M426.49 206.94h0M426.49 213.38h0M426.49 219.83h0M426.49 226.27h0M426.49 232.72h0M426.49 239.17h0M426.49 245.61h0M426.49 252.06h0M426.49 258.50h0M426.49 264.95h0M426.49 271.40h0M426.49 277.84h0M426.49 284.29h0M426.49 290.73h0M426.49 297.18h0M426.49 303.63h0M426.49 310.07h0M432.94 107.02h0M432.94 113.47h0M432.94 119.91h0M432.94 126.36h0M432.94 132.81h0M432.94 139.25h0M432.94 145.70h0M432.94 152.14h0M432.94 158.59h0M432.94 165.04h0M432.94 171.48h0M432.94 177.93h0M432.94 184.38h0M432.94 190.82h0M432.94 197.27h0M432.94 203.71h0M432.94 210.16h0M432.94 216.60h0M432.94 223.05h0M432.94 229.50h0M432.94 235.94h0M432.94 242.39h0M432.94 248.83h0M432.94 255.28h0M432.94 261.73h0M432.94 268.17h0M432.94 274.62h0M432.94 281.06h0M432.94 287.51h0M432.94 293.96h0M432.94 300.40h0M432.94 306.85h0M439.38 103.80h0M439.38 110.25h0M439.38 116.69h0M439.38 123.14h0M439.38 129.58h0M439.38 136.03h0M439.38 142.48h0M439.38 148.92h0M439.38 155.37h0M439.38 161.81h0M439.38 168.26h0M439.38 174.71h0M439.38 181.15h0M439.38 187.60h0M439.38 194.04h0M439.38 200.49h0M439.38 206.94h0M439.38 213.38h0M439.38 219.83h0M439.38 226.27h0M439.38 232.72h0M439.38 239.17h0M439.38 245.61h0M439.38 252.06h0M439.38 258.50h0M439.38 264.95h0M439.38 271.40h0M439.38 277.84h0M439.38 284.29h0M439.38 290.73h0M439.38 297.18h0M439.38 303.63h0M445.83 107.02h0M445.83 113.47h0M445.83 119.91h0M445.83 126.36h0M445.83 132.81h0M445.83 139.25h0M445.83 145.70h0M445.83 152.14h0M445.83 158.59h0M445.83 165.04h0M445.83 171.48h0M445.83 177.93h0M445.83 184.38h0M445.83 190.82h0M445.83 197.27h0M445.83 203.71h0M445.83 210.16h0M445.83 216.60h0M445.83 223.05h0M445.83 229.50h0M445.83 235.94h0M445.83 242.39h0M445.83 248.83h0M445.83 255.28h0M445.83 261.73h0M445.83 268.17h0M445.83 274.62h0M445.83 281.06h0M445.83 287.51h0M445.83 293.96h0M445.83 300.40h0M452.27 103.80h0M452.27 110.25h0M452.27 116.69h0M452.27 123.14h0M452.27 129.58h0M452.27 136.03h0M452.27 142.48h0M452.27 148.92h0M452.27 155.37h0M452.27 161.81h0M452.27 168.26h0M452.27 174.71h0M452.27 181.15h0M452.27 187.60h0M452.27 194.04h0M452.27 200.49h0M452.27 206.94h0M452.27 213.38h0M452.27 219.83h0M452.27 226.27h0M452.27 232.72h0M452.27 239.17h0M452.27 245.61h0M452.27 252.06h0M452.27 258.50h0M452.27 264.95h0M452.27 271.40h0M452.27 277.84h0M452.27 284.29h0M452.27 290.73h0M452.27 297.18h0M458.72 100.58h0M458.72 107.02h0M458.72 113.47h0M458.72 119.91h0M458.72 126.36h0M458.72 132.81h0M458.72 139.25h0M458.72 145.70h0M458.72 152.14h0M458.72 158.59h0M458.72 165.04h0M458.72 171.48h0M458.72 177.93h0M458.72 184.38h0M458.72 190.82h0M458.72 197.27h0M458.72 203.71h0M458.72 210.16h0M458.72 216.60h0M458.72 223.05h0M458.72 229.50h0M458.72 235.94h0M458.72 242.39h0M458.72 248.83h0M458.72 255.28h0M458.72 261.73h0M458.72 268.17h0M458.72 274.62h0M458.72 281.06h0M458.72 287.51h0M458.72 293.96h0M465.17 97.35h0M465.17 103.80h0M465.17 110.25h0M465.17 116.69h0M465.17 123.14h0M465.17 129.58h0M465.17 136.03h0M465.17 142.48h0M465.17 148.92h0M465.17 155.37h0M465.17 161.81h0M465.17 168.26h0M465.17 174.71h0M465.17 181.15h0M465.17 187.60h0M465.17 194.04h0M465.17 200.49h0M465.17 206.94h0M465.17 213.38h0M465.17 219.83h0M465.17 226.27h0M465.17 232.72h0M465.17 239.17h0M465.17 245.61h0M465.17 252.06h0M465.17 258.50h0M465.17 264.95h0M465.17 271.40h0M465.17 277.84h0M465.17 284.29h0M465.17 290.73h0M471.61 94.13h0M471.61 100.58h0M471.61 107.02h0M471.61 113.47h0M471.61 119.91h0M471.61 126.36h0M471.61 132.81h0M471.61 139.25h0M471.61 145.70h0M471.61 152.14h0M471.61 158.59h0M471.61 165.04h0M471.61 171.48h0M471.61 177.93h0M471.61 184.38h0M471.61 190.82h0M471.61 197.27h0M471.61 203.71h0M471.61 210.16h0M471.61 216.60h0M471.61 223.05h0M471.61 229.50h0M471.61 235.94h0M471.61 242.39h0M471.61 248.83h0M471.61 255.28h0M471.61 261.73h0M471.61 268.17h0M471.61 274.62h0M471.61 281.06h0M471.61 287.51h0M478.06 97.35h0M478.06 103.80h0M478.06 110.25h0M478.06 116.69h0M478.06 123.14h0M478.06 129.58h0M478.06 136.03h0M478.06 142.48h0M478.06 148.92h0M478.06 155.37h0M478.06 161.81h0M478.06 168.26h0M478.06 174.71h0M478.06 181.15h0M478.06 187.60h0M478.06 194.04h0M478.06 200.49h0M478.06 206.94h0M478.06 213.38h0M478.06 219.83h0M478.06 226.27h0M478.06 232.72h0M478.06 239.17h0M478.06 245.61h0M478.06 252.06h0M478.06 258.50h0M478.06 264.95h0M478.06 271.40h0M478.06 277.84h0M478.06 284.29h0M484.50 94.13h0M484.50 100.58h0M484.50 107.02h0M484.50 113.47h0M484.50 119.91h0M484.50 126.36h0M484.50 132.81h0M484.50 139.25h0M484.50 145.70h0M484.50 152.14h0M484.50 158.59h0M484.50 165.04h0M484.50 171.48h0M484.50 177.93h0M484.50 184.38h0M484.50 190.82h0M484.50 197.27h0M484.50 203.71h0M484.50 210.16h0M484.50 216.60h0M484.50 223.05h0M484.50 229.50h0M484.50 235.94h0M484.50 242.39h0M484.50 248.83h0M484.50 255.28h0M484.50 261.73h0M484.50 268.17h0M484.50 274.62h0M484.50 281.06h0M490.95 90.91h0M490.95 97.35h0M490.95 103.80h0M490.95 110.25h0M490.95 116.69h0M490.95 123.14h0M490.95 129.58h0M490.95 136.03h0M490.95 142.48h0M490.95 148.92h0M490.95 155.37h0M490.95 161.81h0M490.95 168.26h0M490.95 174.71h0M490.95 181.15h0M490.95 187.60h0M490.95 194.04h0M490.95 200.49h0M490.95 206.94h0M490.95 213.38h0M490.95 219.83h0M490.95 226.27h0M490.95 232.72h0M490.95 239.17h0M490.95 245.61h0M490.95 252.06h0M490.95 258.50h0M490.95 264.95h0M490.95 271.40h0M490.95 277.84h0M497.40 87.69h0M497.40 94.13h0M497.40 100.58h0M497.40 107.02h0M497.40 113.47h0M497.40 119.91h0M497.40 126.36h0M497.40 132.81h0M497.40 139.25h0M497.40 145.70h0M497.40 152.14h0M497.40 158.59h0M497.40 165.04h0M497.40 171.48h0M497.40 177.93h0M497.40 184.38h0M497.40 190.82h0M497.40 197.27h0M497.40 203.71h0M497.40 210.16h0M497.40 216.60h0M497.40 223.05h0M497.40 229.50h0M497.40 235.94h0M497.40 242.39h0M497.40 248.83h0M497.40 255.28h0M497.40 261.73h0M497.40 268.17h0M497.40 274.62h0M503.84 90.91h0M503.84 97.35h0M503.84 103.80h0M503.84 110.25h0M503.84 116.69h0M503.84 123.14h0M503.84 129.58h0M503.84 136.03h0M503.84 142.48h0M503.84 148.92h0M503.84 155.37h0M503.84 161.81h0M503.84 168.26h0M503.84 174.71h0M503.84 181.15h0M503.84 187.60h0M503.84 194.04h0M503.84 200.49h0M503.84 206.94h0M503.84 213.38h0M503.84 219.83h0M503.84 226.27h0M503.84 232.72h0M503.84 239.17h0M503.84 245.61h0M503.84 252.06h0M503.84 258.50h0M503.84 264.95h0M503.84 271.40h0M510.29 94.13h0M510.29 100.58h0M510.29 107.02h0M510.29 113.47h0M510.29 119.91h0M510.29 126.36h0M510.29 132.81h0M510.29 139.25h0M510.29 145.70h0M510.29 152.14h0M510.29 158.59h0M510.29 165.04h0M510.29 171.48h0M510.29 177.93h0M510.29 184.38h0M510.29 190.82h0M510.29 197.27h0M510.29 203.71h0M510.29 210.16h0M510.29 216.60h0M510.29 223.05h0M510.29 229.50h0M510.29 235.94h0M510.29 242.39h0M510.29 248.83h0M510.29 255.28h0M510.29 261.73h0M510.29 268.17h0M510.29 274.62h0M516.73 97.35h0M516.73 103.80h0M516.73 110.25h0M516.73 116.69h0M516.73 123.14h0M516.73 129.58h0M516.73 136.03h0M516.73 142.48h0M516.73 148.92h0M516.73 155.37h0M516.73 161.81h0M516.73 168.26h0M516.73 174.71h0M516.73 181.15h0M516.73 187.60h0M516.73 194.04h0M516.73 200.49h0M516.73 206.94h0M516.73 213.38h0M516.73 219.83h0M516.73 226.27h0M516.73 232.72h0M516.73 239.17h0M516.73 245.61h0M516.73 252.06h0M516.73 258.50h0M516.73 264.95h0M516.73 271.40h0M516.73 277.84h0M523.18 100.58h0M523.18 107.02h0M523.18 113.47h0M523.18 119.91h0M523.18 126.36h0M523.18 132.81h0M523.18 139.25h0M523.18 145.70h0M523.18 152.14h0M523.18 158.59h0M523.18 165.04h0M523.18 171.48h0M523.18 177.93h0M523.18 184.38h0M523.18 190.82h0M523.18 197.27h0M523.18 203.71h0M523.18 210.16h0M523.18 216.60h0M523.18 223.05h0M523.18 229.50h0M523.18 235.94h0M523.18 242.39h0M523.18 248.83h0M523.18 255.28h0M523.18 261.73h0M523.18 268.17h0M523.18 274.62h0M523.18 281.06h0M523.18 287.51h0M529.63 110.25h0M529.63 116.69h0M529.63 123.14h0M529.63 129.58h0M529.63 136.03h0M529.63 142.48h0M529.63 148.92h0M529.63 155.37h0M529.63 161.81h0M529.63 168.26h0M529.63 174.71h0M529.63 181.15h0M529.63 187.60h0M529.63 194.04h0M529.63 200.49h0M529.63 206.94h0M529.63 213.38h0M529.63 219.83h0M529.63 226.27h0M529.63 232.72h0M529.63 239.17h0M529.63 245.61h0M529.63 252.06h0M529.63 258.50h0M529.63 264.95h0M529.63 271.40h0M529.63 277.84h0M529.63 284.29h0M529.63 290.73h0M536.07 113.47h0M536.07 119.91h0M536.07 126.36h0M536.07 132.81h0M536.07 139.25h0M536.07 145.70h0M536.07 152.14h0M536.07 158.59h0M536.07 165.04h0M536.07 171.48h0M536.07 177.93h0M536.07 184.38h0M536.07 190.82h0M536.07 197.27h0M536.07 203.71h0M536.07 210.16h0M536.07 216.60h0M536.07 223.05h0M536.07 229.50h0M536.07 235.94h0M536.07 242.39h0M536.07 248.83h0M536.07 255.28h0M536.07 261.73h0M536.07 268.17h0M536.07 274.62h0M536.07 281.06h0M536.07 287.51h0M536.07 293.96h0M542.52 116.69h0M542.52 123.14h0M542.52 129.58h0M542.52 136.03h0M542.52 142.48h0M542.52 148.92h0M542.52 155.37h0M542.52 161.81h0M542.52 168.26h0M542.52 174.71h0M542.52 181.15h0M542.52 187.60h0M542.52 194.04h0M542.52 200.49h0M542.52 206.94h0M542.52 213.38h0M542.52 219.83h0M542.52 226.27h0M542.52 232.72h0M542.52 239.17h0M542.52 245.61h0M542.52 252.06h0M542.52 258.50h0M542.52 264.95h0M542.52 271.40h0M542.52 277.84h0M542.52 284.29h0M542.52 290.73h0M542.52 297.18h0M548.96 119.91h0M548.96 126.36h0M548.96 132.81h0M548.96 139.25h0M548.96 145.70h0M548.96 152.14h0M548.96 158.59h0M548.96 165.04h0M548.96 171.48h0M548.96 177.93h0M548.96 184.38h0M548.96 190.82h0M548.96 197.27h0M548.96 203.71h0M548.96 210.16h0M548.96 216.60h0M548.96 223.05h0M548.96 229.50h0M548.96 235.94h0M548.96 242.39h0M548.96 248.83h0M548.96 255.28h0M548.96 261.73h0M548.96 268.17h0M548.96 274.62h0M548.96 281.06h0M548.96 287.51h0M548.96 293.96h0M548.96 300.40h0M555.41 129.58h0M555.41 136.03h0M555.41 142.48h0M555.41 148.92h0M555.41 155.37h0M555.41 161.81h0M555.41 168.26h0M555.41 174.71h0M555.41 181.15h0M555.41 187.60h0M555.41 194.04h0M555.41 200.49h0M555.41 206.94h0M555.41 213.38h0M555.41 219.83h0M555.41 226.27h0M555.41 232.72h0M555.41 239.17h0M555.41 245.61h0M555.41 252.06h0M555.41 258.50h0M555.41 264.95h0M555.41 271.40h0M555.41 277.84h0M555.41 284.29h0M555.41 290.73h0M555.41 297.18h0M555.41 303.63h0M561.86 132.81h0M561.86 139.25h0M561.86 145.70h0M561.86 152.14h0M561.86 158.59h0M561.86 165.04h0M561.86 171.48h0M561.86 177.93h0M561.86 184.38h0M561.86 190.82h0M561.86 197.27h0M561.86 203.71h0M561.86 210.16h0M561.86 216.60h0M561.86 223.05h0M561.86 229.50h0M561.86 235.94h0M561.86 242.39h0M561.86 248.83h0M561.86 255.28h0M561.86 261.73h0M561.86 268.17h0M561.86 274.62h0M561.86 281.06h0M561.86 287.51h0M561.86 293.96h0M561.86 300.40h0M561.86 306.85h0M568.30 136.03h0M568.30 142.48h0M568.30 148.92h0M568.30 155.37h0M568.30 161.81h0M568.30 168.26h0M568.30 174.71h0M568.30 181.15h0M568.30 187.60h0M568.30 194.04h0M568.30 200.49h0M568.30 206.94h0M568.30 213.38h0M568.30 219.83h0M568.30 226.27h0M568.30 232.72h0M568.30 239.17h0M568.30 245.61h0M568.30 252.06h0M568.30 258.50h0M568.30 264.95h0M568.30 271.40h0M568.30 277.84h0M568.30 284.29h0M568.30 290.73h0M568.30 297.18h0M568.30 303.63h0M568.30 310.07h0M568.30 316.52h0M574.75 139.25h0M574.75 145.70h0M574.75 152.14h0M574.75 158.59h0M574.75 165.04h0M574.75 171.48h0M574.75 177.93h0M574.75 184.38h0M574.75 190.82h0M574.75 197.27h0M574.75 203.71h0M574.75 210.16h0M574.75 216.60h0M574.75 223.05h0M574.75 229.50h0M574.75 235.94h0M574.75 242.39h0M574.75 248.83h0M574.75 255.28h0M574.75 261.73h0M574.75 268.17h0M574.75 274.62h0M574.75 281.06h0M574.75 287.51h0M574.75 293.96h0M574.75 300.40h0M574.75 306.85h0M574.75 313.29h0M574.75 319.74h0M581.19 148.92h0M581.19 155.37h0M581.19 161.81h0M581.19 168.26h0M581.19 174.71h0M581.19 181.15h0M581.19 187.60h0M581.19 194.04h0M581.19 200.49h0M581.19 206.94h0M581.19 213.38h0M581.19 219.83h0M581.19 226.27h0M581.19 232.72h0M581.19 239.17h0M581.19 245.61h0M581.19 252.06h0M581.19 258.50h0M581.19 264.95h0M581.19 271.40h0M581.19 277.84h0M581.19 284.29h0M581.19 290.73h0M581.19 297.18h0M581.19 303.63h0M581.19 310.07h0M581.19 316.52h0M581.19 322.96h0M587.64 152.14h0M587.64 158.59h0M587.64 165.04h0M587.64 171.48h0M587.64 177.93h0M587.64 184.38h0M587.64 190.82h0M587.64 197.27h0M587.64 203.71h0M587.64 210.16h0M587.64 216.60h0M587.64 223.05h0M587.64 229.50h0M587.64 235.94h0M587.64 242.39h0M587.64 248.83h0M587.64 255.28h0M587.64 261.73h0M587.64 268.17h0M587.64 274.62h0M587.64 281.06h0M587.64 287.51h0M587.64 293.96h0M587.64 300.40h0M587.64 306.85h0M587.64 313.29h0M587.64 319.74h0M587.64 326.19h0M594.09 155.37h0M594.09 161.81h0M594.09 168.26h0M594.09 174.71h0M594.09 181.15h0M594.09 187.60h0M594.09 194.04h0M594.09 200.49h0M594.09 206.94h0M594.09 213.38h0M594.09 219.83h0M594.09 226.27h0M594.09 232.72h0M594.09 239.17h0M594.09 245.61h0M594.09 252.06h0M594.09 258.50h0M594.09 264.95h0M594.09 271.40h0M594.09 277.84h0M594.09 284.29h0M594.09 290.73h0M594.09 297.18h0M594.09 303.63h0M594.09 310.07h0M594.09 316.52h0M594.09 322.96h0M594.09 329.41h0M600.53 158.59h0M600.53 165.04h0M600.53 171.48h0M600.53 177.93h0M600.53 184.38h0M600.53 190.82h0M600.53 197.27h0M600.53 203.71h0M600.53 210.16h0M600.53 216.60h0M600.53 223.05h0M600.53 229.50h0M600.53 235.94h0M600.53 242.39h0M600.53 248.83h0M600.53 255.28h0M600.53 261.73h0M600.53 268.17h0M600.53 274.62h0M600.53 281.06h0M600.53 287.51h0M600.53 293.96h0M600.53 300.40h0M600.53 306.85h0M600.53 313.29h0M600.53 319.74h0M600.53 326.19h0M600.53 332.63h0M606.98 168.26h0M606.98 174.71h0M606.98 181.15h0M606.98 187.60h0M606.98 194.04h0M606.98 200.49h0M606.98 206.94h0M606.98 213.38h0M606.98 219.83h0M606.98 226.27h0M606.98 232.72h0M606.98 239.17h0M606.98 245.61h0M606.98 252.06h0M606.98 258.50h0M606.98 264.95h0M606.98 271.40h0M606.98 277.84h0M606.98 284.29h0M606.98 290.73h0M606.98 297.18h0M606.98 303.63h0M606.98 310.07h0M606.98 316.52h0M606.98 322.96h0M606.98 329.41h0M606.98 335.86h0M613.42 171.48h0M613.42 177.93h0M613.42 184.38h0M613.42 190.82h0M613.42 197.27h0M613.42 203.71h0M613.42 210.16h0M613.42 216.60h0M613.42 223.05h0M613.42 229.50h0M613.42 235.94h0M613.42 242.39h0M613.42 248.83h0M613.42 255.28h0M613.42 261.73h0M613.42 268.17h0M613.42 274.62h0M613.42 281.06h0M613.42 287.51h0M613.42 293.96h0M613.42 300.40h0M613.42 306.85h0M613.42 313.29h0M613.42 319.74h0M613.42 326.19h0M613.42 332.63h0M613.42 339.08h0M619.87 174.71h0M619.87 181.15h0M619.87 187.60h0M619.87 194.04h0M619.87 200.49h0M619.87 206.94h0M619.87 213.38h0M619.87 219.83h0M619.87 226.27h0M619.87 232.72h0M619.87 239.17h0M619.87 245.61h0M619.87 252.06h0M619.87 258.50h0M619.87 264.95h0M619.87 271.40h0M619.87 277.84h0M619.87 284.29h0M619.87 290.73h0M619.87 297.18h0M619.87 303.63h0M619.87 310.07h0M619.87 316.52h0M619.87 322.96h0M619.87 329.41h0M619.87 335.86h0M619.87 342.30h0M619.87 348.75h0M626.32 184.38h0M626.32 190.82h0M626.32 197.27h0M626.32 203.71h0M626.32 210.16h0M626.32 216.60h0M626.32 223.05h0M626.32 229.50h0M626.32 235.94h0M626.32 242.39h0M626.32 248.83h0M626.32 255.28h0M626.32 261.73h0M626.32 268.17h0M626.32 274.62h0M626.32 281.06h0M626.32 287.51h0M626.32 293.96h0M626.32 300.40h0M626.32 306.85h0M626.32 313.29h0M626.32 319.74h0M626.32 326.19h0M626.32 332.63h0M626.32 339.08h0M626.32 345.52h0M626.32 351.97h0M632.76 187.60h0M632.76 194.04h0M632.76 200.49h0M632.76 206.94h0M632.76 213.38h0M632.76 219.83h0M632.76 226.27h0M632.76 232.72h0M632.76 239.17h0M632.76 245.61h0M632.76 252.06h0M632.76 258.50h0M632.76 264.95h0M632.76 271.40h0M632.76 277.84h0M632.76 284.29h0M632.76 290.73h0M632.76 297.18h0M632.76 303.63h0M632.76 310.07h0M632.76 316.52h0M632.76 322.96h0M632.76 329.41h0M632.76 335.86h0M632.76 342.30h0M632.76 348.75h0M632.76 355.19h0M639.21 190.82h0M639.21 197.27h0M639.21 203.71h0M639.21 210.16h0M639.21 216.60h0M639.21 223.05h0M639.21 229.50h0M639.21 235.94h0M639.21 242.39h0M639.21 248.83h0M639.21 255.28h0M639.21 261.73h0M639.21 268.17h0M639.21 274.62h0M639.21 281.06h0M639.21 287.51h0M639.21 293.96h0M639.21 300.40h0M639.21 306.85h0M639.21 313.29h0M639.21 319.74h0M639.21 326.19h0M639.21 332.63h0M639.21 339.08h0M639.21 345.52h0M639.21 351.97h0M639.21 358.42h0M645.65 200.49h0M645.65 206.94h0M645.65 213.38h0M645.65 219.83h0M645.65 226.27h0M645.65 232.72h0M645.65 239.17h0M645.65 245.61h0M645.65 252.06h0M645.65 258.50h0M645.65 264.95h0M645.65 271.40h0M645.65 277.84h0M645.65 284.29h0M645.65 290.73h0M645.65 297.18h0M645.65 303.63h0M645.65 310.07h0M645.65 316.52h0M645.65 322.96h0M645.65 329.41h0M645.65 335.86h0M645.65 342.30h0M645.65 348.75h0M645.65 355.19h0M645.65 361.64h0M652.10 210.16h0M652.10 216.60h0M652.10 223.05h0M652.10 229.50h0M652.10 235.94h0M652.10 242.39h0M652.10 248.83h0M652.10 255.28h0M652.10 261.73h0M652.10 268.17h0M652.10 274.62h0M652.10 281.06h0M652.10 287.51h0M652.10 293.96h0M652.10 300.40h0M652.10 306.85h0M652.10 313.29h0M652.10 319.74h0M652.10 326.19h0M652.10 332.63h0M652.10 339.08h0M652.10 345.52h0M652.10 351.97h0M652.10 358.42h0M652.10 364.86h0M652.10 371.31h0M658.55 219.83h0M658.55 226.27h0M658.55 232.72h0M658.55 239.17h0M658.55 245.61h0M658.55 252.06h0M658.55 258.50h0M658.55 264.95h0M658.55 271.40h0M658.55 277.84h0M658.55 284.29h0M658.55 290.73h0M658.55 297.18h0M658.55 303.63h0M658.55 310.07h0M658.55 316.52h0M658.55 322.96h0M658.55 329.41h0M658.55 335.86h0M658.55 342.30h0M658.55 348.75h0M658.55 355.19h0M658.55 361.64h0M658.55 368.09h0M658.55 374.53h0M658.55 380.98h0M664.99 229.50h0M664.99 235.94h0M664.99 242.39h0M664.99 248.83h0M664.99 255.28h0M664.99 261.73h0M664.99 268.17h0M664.99 274.62h0M664.99 281.06h0M664.99 287.51h0M664.99 293.96h0M664.99 300.40h0M664.99 306.85h0M664.99 313.29h0M664.99 319.74h0M664.99 326.19h0M664.99 332.63h0M664.99 339.08h0M664.99 345.52h0M664.99 351.97h0M664.99 358.42h0M664.99 364.86h0M664.99 371.31h0M664.99 377.75h0M664.99 384.20h0M671.44 245.61h0M671.44 252.06h0M671.44 258.50h0M671.44 264.95h0M671.44 271.40h0M671.44 277.84h0M671.44 284.29h0M671.44 290.73h0M671.44 297.18h0M671.44 303.63h0M671.44 310.07h0M671.44 316.52h0M671.44 322.96h0M671.44 329.41h0M671.44 335.86h0M671.44 342.30h0M671.44 348.75h0M671.44 355.19h0M671.44 361.64h0M671.44 368.09h0M671.44 374.53h0M671.44 380.98h0M671.44 387.42h0M671.44 393.87h0M677.88 255.28h0M677.88 261.73h0M677.88 268.17h0M677.88 274.62h0M677.88 281.06h0M677.88 287.51h0M677.88 293.96h0M677.88 300.40h0M677.88 306.85h0M677.88 313.29h0M677.88 319.74h0M677.88 326.19h0M677.88 332.63h0M677.88 339.08h0M677.88 345.52h0M677.88 351.97h0M677.88 358.42h0M677.88 364.86h0M677.88 371.31h0M677.88 377.75h0M677.88 384.20h0M677.88 390.65h0M677.88 397.09h0M684.33 264.95h0M684.33 271.40h0M684.33 277.84h0M684.33 284.29h0M684.33 290.73h0M684.33 297.18h0M684.33 303.63h0M684.33 310.07h0M684.33 316.52h0M684.33 322.96h0M684.33 329.41h0M684.33 335.86h0M684.33 342.30h0M684.33 348.75h0M684.33 355.19h0M684.33 361.64h0M684.33 368.09h0M684.33 374.53h0M684.33 380.98h0M684.33 387.42h0M684.33 393.87h0M684.33 400.32h0M684.33 406.76h0M690.78 274.62h0M690.78 281.06h0M690.78 287.51h0M690.78 293.96h0M690.78 300.40h0M690.78 306.85h0M690.78 313.29h0M690.78 319.74h0M690.78 326.19h0M690.78 332.63h0M690.78 339.08h0M690.78 345.52h0M690.78 351.97h0M690.78 358.42h0M690.78 364.86h0M690.78 371.31h0M690.78 377.75h0M690.78 384.20h0M690.78 390.65h0M690.78 397.09h0M690.78 403.54h0M690.78 409.99h0M690.78 416.43h0M697.22 284.29h0M697.22 290.73h0M697.22 297.18h0M697.22 303.63h0M697.22 310.07h0M697.22 316.52h0M697.22 322.96h0M697.22 329.41h0M697.22 335.86h0M697.22 342.30h0M697.22 348.75h0M697.22 355.19h0M697.22 361.64h0M697.22 368.09h0M697.22 374.53h0M697.22 380.98h0M697.22 387.42h0M697.22 393.87h0M697.22 400.32h0M697.22 406.76h0M697.22 413.21h0M697.22 419.65h0M703.67 293.96h0M703.67 300.40h0M703.67 306.85h0M703.67 313.29h0M703.67 319.74h0M703.67 326.19h0M703.67 332.63h0M703.67 339.08h0M703.67 345.52h0M703.67 351.97h0M703.67 358.42h0M703.67 364.86h0M703.67 371.31h0M703.67 377.75h0M703.67 384.20h0M703.67 390.65h0M703.67 397.09h0M703.67 403.54h0M703.67 409.99h0M703.67 416.43h0M703.67 422.88h0M703.67 429.32h0M710.11 310.07h0M710.11 316.52h0M710.11 322.96h0M710.11 329.41h0M710.11 335.86h0M710.11 342.30h0M710.11 348.75h0M710.11 355.19h0M710.11 361.64h0M710.11 368.09h0M710.11 374.53h0M710.11 380.98h0M710.11 387.42h0M710.11 393.87h0M710.11 400.32h0M710.11 406.76h0M710.11 413.21h0M710.11 419.65h0M710.11 426.10h0M710.11 432.55h0M716.56 319.74h0M716.56 326.19h0M716.56 332.63h0M716.56 339.08h0M716.56 345.52h0M716.56 351.97h0M716.56 358.42h0M716.56 364.86h0M716.56 371.31h0M716.56 377.75h0M716.56 384.20h0M716.56 390.65h0M716.56 397.09h0M716.56 403.54h0M716.56 409.99h0M716.56 416.43h0M716.56 422.88h0M716.56 429.32h0M716.56 435.77h0M716.56 442.22h0M723.01 329.41h0M723.01 335.86h0M723.01 342.30h0M723.01 348.75h0M723.01 355.19h0M723.01 361.64h0M723.01 368.09h0M723.01 374.53h0M723.01 380.98h0M723.01 387.42h0M723.01 393.87h0M723.01 400.32h0M723.01 406.76h0M723.01 413.21h0M723.01 419.65h0M723.01 426.10h0M723.01 432.55h0M723.01 438.99h0M723.01 445.44h0M723.01 451.88h0M729.45 339.08h0M729.45 345.52h0M729.45 351.97h0M729.45 358.42h0M729.45 364.86h0M729.45 371.31h0M729.45 377.75h0M729.45 384.20h0M729.45 390.65h0M729.45 397.09h0M729.45 403.54h0M729.45 409.99h0M729.45 416.43h0M729.45 422.88h0M729.45 429.32h0M729.45 435.77h0M729.45 442.22h0M729.45 448.66h0M729.45 455.11h0M735.90 348.75h0M735.90 355.19h0M735.90 361.64h0M735.90 368.09h0M735.90 374.53h0M735.90 380.98h0M735.90 387.42h0M735.90 393.87h0M735.90 400.32h0M735.90 406.76h0M735.90 413.21h0M735.90 419.65h0M735.90 426.10h0M735.90 432.55h0M735.90 438.99h0M735.90 445.44h0M735.90 451.88h0M735.90 458.33h0M735.90 464.78h0M742.34 364.86h0M742.34 371.31h0M742.34 377.75h0M742.34 384.20h0M742.34 390.65h0M742.34 397.09h0M742.34 403.54h0M742.34 409.99h0M742.34 416.43h0M742.34 422.88h0M742.34 429.32h0M742.34 435.77h0M742.34 442.22h0M742.34 448.66h0M742.34 455.11h0M742.34 461.55h0M742.34 468.00h0M742.34 474.44h0M748.79 374.53h0M748.79 380.98h0M748.79 387.42h0M748.79 393.87h0M748.79 400.32h0M748.79 406.76h0M748.79 413.21h0M748.79 419.65h0M748.79 426.10h0M748.79 432.55h0M748.79 438.99h0M748.79 445.44h0M748.79 451.88h0M748.79 458.33h0M748.79 464.78h0M748.79 471.22h0M748.79 477.67h0M755.24 384.20h0M755.24 390.65h0M755.24 397.09h0M755.24 403.54h0M755.24 409.99h0M755.24 416.43h0M755.24 422.88h0M755.24 429.32h0M755.24 435.77h0M755.24 442.22h0M755.24 448.66h0M755.24 455.11h0M755.24 461.55h0M755.24 468.00h0M755.24 474.44h0M755.24 480.89h0M755.24 487.34h0M761.68 393.87h0M761.68 400.32h0M761.68 406.76h0M761.68 413.21h0M761.68 419.65h0M761.68 426.10h0M761.68 432.55h0M761.68 438.99h0M761.68 445.44h0M761.68 451.88h0M761.68 458.33h0M761.68 464.78h0M761.68 471.22h0M761.68 477.67h0M761.68 484.11h0M761.68 490.56h0M768.13 403.54h0M768.13 409.99h0M768.13 416.43h0M768.13 422.88h0M768.13 429.32h0M768.13 435.77h0M768.13 442.22h0M768.13 448.66h0M768.13 455.11h0M768.13 461.55h0M768.13 468.00h0M768.13 474.44h0M768.13 480.89h0M768.13 487.34h0M768.13 493.78h0M768.13 500.23h0M774.57 419.65h0M774.57 426.10h0M774.57 432.55h0M774.57 438.99h0M774.57 445.44h0M774.57 451.88h0M774.57 458.33h0M774.57 464.78h0M774.57 471.22h0M774.57 477.67h0M774.57 484.11h0M774.57 490.56h0M774.57 497.01h0M774.57 503.45h0M774.57 509.90h0M781.02 429.32h0M781.02 435.77h0M781.02 442.22h0M781.02 448.66h0M781.02 455.11h0M781.02 461.55h0M781.02 468.00h0M781.02 474.44h0M781.02 480.89h0M781.02 487.34h0M781.02 493.78h0M781.02 500.23h0M781.02 506.67h0M781.02 513.12h0" stroke="#000" stroke-width="1.8" stroke-linecap="round" fill="none"/>
<polygon points="83.90,47.80 223.44,67.20 362.98,109.00 502.52,72.26 642.06,107.40 781.60,194.30 781.60,427.10 642.06,192.10 502.52,86.06 362.98,126.80 223.44,100.60 83.90,58.90" fill="#a6a6a6"/>
<polygon points="83.90,10.00 223.44,10.00 362.98,10.00 502.52,10.00 642.06,10.00 781.60,10.00 781.60,194.30 642.06,107.40 502.52,72.26 362.98,109.00 223.44,67.20 83.90,47.80" fill="#262626"/>
<polyline points="83.90,453.50 223.44,492.60 362.98,444.40 502.52,459.40 642.06,608.06 781.60,667.70" fill="none" stroke="#000" stroke-width="1.8" stroke-linejoin="round"/>
<polyline points="83.90,306.60 223.44,366.00 362.98,338.50 502.52,272.90 642.06,361.20 781.60,516.00" fill="none" stroke="#000" stroke-width="1.8" stroke-linejoin="round"/>
<polyline points="83.90,58.90 223.44,100.60 362.98,126.80 502.52,86.06 642.06,192.10 781.60,427.10" fill="none" stroke="#000" stroke-width="1.8" stroke-linejoin="round"/>
<polyline points="83.90,47.80 223.44,67.20 362.98,109.00 502.52,72.26 642.06,107.40 781.60,194.30" fill="none" stroke="#000" stroke-width="1.8" stroke-linejoin="round"/>
<polyline points="83.90,10.00 223.44,10.00 362.98,10.00 502.52,10.00 642.06,10.00 781.60,10.00" fill="none" stroke="#000" stroke-width="1.8" stroke-linejoin="round"/>
<line x1="781.60" y1="9.10" x2="781.60" y2="825.9" stroke="#000" stroke-width="1.8"/>
<line x1="83.9" y1="9.5" x2="83.9" y2="834.9" stroke="#868686" stroke-width="1.3"/>
<line x1="74.9" y1="825.9" x2="782.1999999999999" y2="825.9" stroke="#868686" stroke-width="1.3"/>
<line x1="74.9" y1="825.90" x2="83.9" y2="825.90" stroke="#868686" stroke-width="1.3"/>
<line x1="74.9" y1="744.31" x2="83.9" y2="744.31" stroke="#868686" stroke-width="1.3"/>
<line x1="74.9" y1="662.72" x2="83.9" y2="662.72" stroke="#868686" stroke-width="1.3"/>
<line x1="74.9" y1="581.13" x2="83.9" y2="581.13" stroke="#868686" stroke-width="1.3"/>
<line x1="74.9" y1="499.54" x2="83.9" y2="499.54" stroke="#868686" stroke-width="1.3"/>
<line x1="74.9" y1="417.95" x2="83.9" y2="417.95" stroke="#868686" stroke-width="1.3"/>
<line x1="74.9" y1="336.36" x2="83.9" y2="336.36" stroke="#868686" stroke-width="1.3"/>
<line x1="74.9" y1="254.77" x2="83.9" y2="254.77" stroke="#868686" stroke-width="1.3"/>
<line x1="74.9" y1="173.18" x2="83.9" y2="173.18" stroke="#868686" stroke-width="1.3"/>
<line x1="74.9" y1="91.59" x2="83.9" y2="91.59" stroke="#868686" stroke-width="1.3"/>
<line x1="74.9" y1="10.00" x2="83.9" y2="10.00" stroke="#868686" stroke-width="1.3"/>
<line x1="223.44" y1="825.9" x2="223.44" y2="834.9" stroke="#868686" stroke-width="1.3"/>
<line x1="362.98" y1="825.9" x2="362.98" y2="834.9" stroke="#868686" stroke-width="1.3"/>
<line x1="502.52" y1="825.9" x2="502.52" y2="834.9" stroke="#868686" stroke-width="1.3"/>
<line x1="642.06" y1="825.9" x2="642.06" y2="834.9" stroke="#868686" stroke-width="1.3"/>
<line x1="781.60" y1="825.9" x2="781.60" y2="834.9" stroke="#868686" stroke-width="1.3"/>
<text x="58.36" y="834.40" text-anchor="end" class="ax" textLength="33.97" lengthAdjust="spacingAndGlyphs">0%</text>
<text x="58.36" y="752.81" text-anchor="end" class="ax" textLength="47.04" lengthAdjust="spacingAndGlyphs">10%</text>
<text x="58.36" y="671.22" text-anchor="end" class="ax" textLength="47.04" lengthAdjust="spacingAndGlyphs">20%</text>
<text x="58.36" y="589.63" text-anchor="end" class="ax" textLength="47.04" lengthAdjust="spacingAndGlyphs">30%</text>
<text x="58.36" y="508.04" text-anchor="end" class="ax" textLength="47.04" lengthAdjust="spacingAndGlyphs">40%</text>
<text x="58.36" y="426.45" text-anchor="end" class="ax" textLength="47.04" lengthAdjust="spacingAndGlyphs">50%</text>
<text x="58.36" y="344.86" text-anchor="end" class="ax" textLength="47.04" lengthAdjust="spacingAndGlyphs">60%</text>
<text x="58.36" y="263.27" text-anchor="end" class="ax" textLength="47.04" lengthAdjust="spacingAndGlyphs">70%</text>
<text x="58.36" y="181.68" text-anchor="end" class="ax" textLength="47.04" lengthAdjust="spacingAndGlyphs">80%</text>
<text x="58.36" y="100.09" text-anchor="end" class="ax" textLength="47.04" lengthAdjust="spacingAndGlyphs">90%</text>
<text x="58.36" y="17.30" text-anchor="end" class="ax" textLength="60.12" lengthAdjust="spacingAndGlyphs">100%</text>
<text x="83.90" y="869.90" text-anchor="middle" class="ax">0</text>
<text x="223.44" y="869.90" text-anchor="middle" class="ax">1</text>
<text x="362.98" y="869.90" text-anchor="middle" class="ax">2</text>
<text x="502.52" y="869.90" text-anchor="middle" class="ax">3</text>
<text x="642.06" y="869.90" text-anchor="middle" class="ax">4</text>
<text x="781.60" y="869.90" text-anchor="middle" class="ax">5</text>
<text x="353.6" y="907.6" class="ax" style="font-size:24.6px" textLength="158.92" lengthAdjust="spacingAndGlyphs">Age in months</text>
<text x="404.24" y="62.25" class="lb" fill="#fff" stroke="#fff" stroke-width="0.5" textLength="57.07" lengthAdjust="spacingAndGlyphs">NBF</text>
<text x="410.00" y="217.90" class="lb" fill="#000" stroke="#000" stroke-width="0.5" textLength="45.45" lengthAdjust="spacingAndGlyphs">MF</text>
<text x="686.23" y="243.10" class="lb" fill="#000" stroke="#000" stroke-width="0.5" textLength="75.92" lengthAdjust="spacingAndGlyphs">BF&amp;S</text>
<text x="396.24" y="390.90" class="lb" fill="#000" stroke="#000" stroke-width="0.5" textLength="73.90" lengthAdjust="spacingAndGlyphs">BF&amp;L</text>
<text x="407.39" y="650.90" class="lb" fill="#fff" stroke="#fff" stroke-width="0.5" textLength="50.83" lengthAdjust="spacingAndGlyphs">EBF</text>
</svg>
</body></html>
